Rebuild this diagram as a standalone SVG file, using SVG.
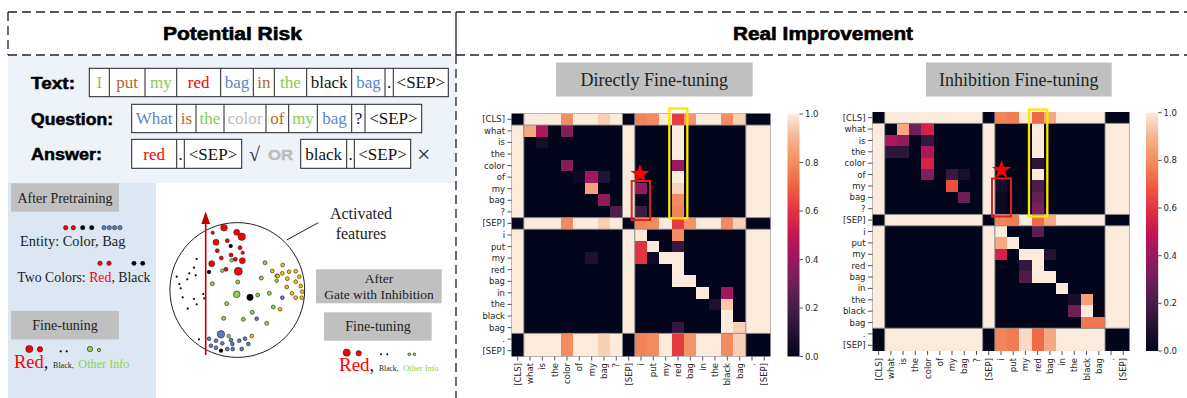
<svg xmlns="http://www.w3.org/2000/svg" xmlns:xlink="http://www.w3.org/1999/xlink" width="1187" height="398" viewBox="0 0 1187 398">
<style>
.hdr{font-family:"Liberation Sans",Arial,sans-serif;font-weight:bold;font-size:18px;fill:#000;stroke:#000;stroke-width:0.6}
.lab{font-family:"Liberation Sans",Arial,sans-serif;font-weight:bold;font-size:16px;fill:#000;stroke:#000;stroke-width:0.5}
.tk{font-family:"Liberation Serif","Times New Roman",serif;font-size:17px;text-anchor:middle}
.tb{fill:#fff;stroke:#222;stroke-width:1}
.ser{font-family:"Liberation Serif","Times New Roman",serif;fill:#222}
.gbox{fill:#C0C0C0}
.hl{font-family:"DejaVu Sans",sans-serif;font-size:8.5px;fill:#262626}
.tick{stroke:#262626;stroke-width:0.8}
.grid{stroke:#8a8a8a;stroke-width:0.9;fill:none}
.dash{stroke:#222;stroke-width:1.3;stroke-dasharray:9 5;fill:none}
.r{fill:#FF0000;stroke:#222;stroke-width:0.6}
.k{fill:#000}
.g{fill:#92D050;stroke:#222;stroke-width:0.6}
.o{fill:#FFC000;stroke:#222;stroke-width:0.6}
.b{fill:#5B7FC0;stroke:#222;stroke-width:0.6}
.cG{fill:#8CC850}.cB{fill:#B8672A}.cR{fill:#FF0000}.cL{fill:#5B86C8}.cY{fill:#BBBBBB}.cK{fill:#111}
</style>
<defs>
<linearGradient id="rocket" x1="0" y1="1" x2="0" y2="0">
<stop offset="0" stop-color="#03051A"/>
<stop offset="0.1" stop-color="#221331"/>
<stop offset="0.2" stop-color="#471C46"/>
<stop offset="0.3" stop-color="#6F1F57"/>
<stop offset="0.4" stop-color="#99195D"/>
<stop offset="0.5" stop-color="#C11754"/>
<stop offset="0.6" stop-color="#E13342"/>
<stop offset="0.7" stop-color="#F06043"/>
<stop offset="0.8" stop-color="#F58D5E"/>
<stop offset="0.9" stop-color="#F6B48E"/>
<stop offset="1" stop-color="#FAEBDD"/>
</linearGradient>
<path id="star" d="M0,-10 L2.35,-3.24 L9.51,-3.09 L3.8,1.24 L5.88,8.09 L0,4 L-5.88,8.09 L-3.8,1.24 L-9.51,-3.09 L-2.35,-3.24 Z" fill="#FF0000"/>
<g id="base">
<rect x="0" y="0" width="21" height="21" fill="#03051A"/>
<g fill="#FAEBDD">
<rect x="0" y="1" width="1" height="8"/><rect x="0" y="10" width="1" height="9"/>
<rect x="9" y="1" width="1" height="8"/><rect x="9" y="10" width="1" height="9"/>
<rect x="19" y="1" width="2" height="8"/><rect x="19" y="10" width="2" height="9"/>
<rect x="1" y="0" width="8" height="1"/><rect x="10" y="0" width="9" height="1"/>
<rect x="1" y="9" width="8" height="1"/><rect x="10" y="9" width="9" height="1"/>
<rect x="1" y="19" width="8" height="2"/><rect x="10" y="19" width="9" height="2"/>
</g>
</g>
<g id="grid">
<path class="grid" vector-effect="non-scaling-stroke" d="M1,0V21M9,0V21M10,0V21M19,0V21M0,1H21M0,9H21M0,10H21M0,19H21"/>
</g>
<g id="pat1" shape-rendering="crispEdges">
<rect x="4" y="0" width="1" height="1" fill="#F38C61"/>
<rect x="7" y="0" width="1" height="1" fill="#F7D0B8"/>
<rect x="10" y="0" width="1" height="1" fill="#F2845A"/>
<rect x="11" y="0" width="1" height="1" fill="#F38C61"/>
<rect x="13" y="0" width="1" height="1" fill="#E53D3F"/>
<rect x="14" y="0" width="1" height="1" fill="#F4946A"/>
<rect x="17" y="0" width="1" height="1" fill="#F38C61"/>
<rect x="18" y="0" width="1" height="1" fill="#F7D0B8"/>
</g>
<g id="pat2" shape-rendering="crispEdges">
<rect x="10" y="0" width="1" height="1" fill="#F2845A"/>
<rect x="11" y="0" width="1" height="1" fill="#F17B52"/>
<rect x="13" y="0" width="1" height="1" fill="#EF6A47"/>
<rect x="14" y="0" width="1" height="1" fill="#F5A882"/>
</g>
</defs>

<!-- Backgrounds -->
<rect x="8" y="56" width="448" height="127" fill="#EEF2F9"/>
<rect x="8" y="183" width="148" height="215" fill="#DDE7F4"/>

<!-- Header frame -->
<g id="header">
<line class="dash" x1="8" y1="12" x2="1187" y2="12"/>
<line class="dash" x1="8" y1="55" x2="1187" y2="55"/>
<line class="dash" x1="8" y1="12" x2="8" y2="55"/>
<line x1="456" y1="12" x2="456" y2="55" stroke="#222" stroke-width="1.3"/>
<line class="dash" x1="456" y1="55" x2="456" y2="398"/>
<text class="hdr" x="163" y="40" textLength="139" lengthAdjust="spacingAndGlyphs">Potential Risk</text>
<text class="hdr" x="733" y="40" textLength="180" lengthAdjust="spacingAndGlyphs">Real Improvement</text>
</g>

<!-- Text / Question / Answer rows -->
<g id="text-row">
<text class="lab" x="31" y="89" textLength="44" lengthAdjust="spacingAndGlyphs">Text:</text>
<rect class="tb" x="89.3" y="68.3" width="359" height="28.4"/>
<path stroke="#222" stroke-width="1" d="M109.3,68.3V96.7M145,68.3V96.7M176.7,68.3V96.7M220.7,68.3V96.7M253.3,68.3V96.7M274.3,68.3V96.7M306.7,68.3V96.7M351.7,68.3V96.7M385,68.3V96.7M393.3,68.3V96.7"/>
<text class="tk cG" x="99.3" y="88">I</text>
<text class="tk cB" x="127.2" y="88">put</text>
<text class="tk cG" x="160.9" y="88">my</text>
<text class="tk cR" x="198.7" y="88">red</text>
<text class="tk cL" x="237" y="88">bag</text>
<text class="tk cB" x="263.8" y="88">in</text>
<text class="tk cG" x="290.5" y="88">the</text>
<text class="tk cK" x="329.2" y="88">black</text>
<text class="tk cL" x="368.4" y="88">bag</text>
<text class="tk cK" x="389.2" y="88">.</text>
<text class="tk cK" x="420.8" y="88">&lt;SEP&gt;</text>
</g>
<g id="question-row">
<text class="lab" x="31" y="125" textLength="82" lengthAdjust="spacingAndGlyphs">Question:</text>
<rect class="tb" x="131.7" y="104.3" width="290" height="28.4"/>
<path stroke="#222" stroke-width="1" d="M176.7,104.3V132.7M196,104.3V132.7M224,104.3V132.7M266,104.3V132.7M288.7,104.3V132.7M317.3,104.3V132.7M351.7,104.3V132.7M365,104.3V132.7"/>
<text class="tk cL" x="154.2" y="124">What</text>
<text class="tk cB" x="186.4" y="124">is</text>
<text class="tk cG" x="210" y="124">the</text>
<text class="tk cY" x="245" y="124">color</text>
<text class="tk cB" x="277.4" y="124">of</text>
<text class="tk cG" x="303" y="124">my</text>
<text class="tk cL" x="334.5" y="124">bag</text>
<text class="tk cK" x="358.4" y="124">?</text>
<text class="tk cK" x="393.4" y="124">&lt;SEP&gt;</text>
</g>
<g id="answer-row">
<text class="lab" x="31" y="160" textLength="71" lengthAdjust="spacingAndGlyphs">Answer:</text>
<rect class="tb" x="131.7" y="139.3" width="110" height="29"/>
<path stroke="#222" stroke-width="1" d="M176.7,139.3V168.3M184.3,139.3V168.3"/>
<text class="tk cR" x="154.2" y="159.5">red</text>
<text class="tk cK" x="180.5" y="159.5">.</text>
<text class="tk cK" x="213" y="159.5">&lt;SEP&gt;</text>
<text class="ser" x="249" y="161" font-size="20">√</text>
<text x="268" y="160" font-family="Liberation Sans,Arial,sans-serif" font-weight="bold" font-size="15" fill="#BDBDBD" stroke="#BDBDBD" stroke-width="0.5" textLength="25" lengthAdjust="spacingAndGlyphs">OR</text>
<rect class="tb" x="300.7" y="139.3" width="110" height="29"/>
<path stroke="#222" stroke-width="1" d="M346.7,139.3V168.3M354.3,139.3V168.3"/>
<text class="tk cK" x="323.7" y="159.5">black</text>
<text class="tk cK" x="350.5" y="159.5">.</text>
<text class="tk cK" x="382.5" y="159.5">&lt;SEP&gt;</text>
<text class="ser" x="417" y="162" font-size="24">×</text>
</g>

<!-- After pretraining -->
<g id="after-pretraining">
<rect class="gbox" x="11" y="183.3" width="108" height="28.4"/>
<text class="ser" x="65" y="202.5" font-size="14" text-anchor="middle">After Pretraining</text>
<circle class="r" cx="65.7" cy="227.7" r="2.2"/><circle class="r" cx="73.3" cy="227.7" r="2.2"/>
<circle class="k" cx="82.7" cy="227.7" r="2.4"/><circle class="k" cx="91.7" cy="227.7" r="2.4"/>
<circle class="b" cx="104" cy="227.7" r="2.1"/><circle class="b" cx="109.3" cy="227.7" r="2.1"/><circle class="b" cx="114.6" cy="227.7" r="2.1"/><circle class="b" cx="120" cy="227.7" r="2.1"/>
<text class="ser" x="20" y="246" font-size="14.4">Entity: Color, Bag</text>
<circle class="r" cx="100" cy="263.3" r="2.2"/><circle class="r" cx="109" cy="263.3" r="2.2"/>
<circle class="k" cx="134" cy="263.3" r="2.4"/><circle class="k" cx="142.7" cy="263.3" r="2.4"/>
<text class="ser" x="17.3" y="281.5" font-size="13.8">Two Colors: <tspan fill="#FF0000">Red</tspan>, Black</text>
</g>
<g id="finetune-left">
<rect class="gbox" x="11" y="311" width="108" height="28.4"/>
<text class="ser" x="65" y="330" font-size="14" text-anchor="middle">Fine-tuning</text>
<circle class="r" cx="29.3" cy="349" r="3.6"/><circle class="r" cx="40" cy="349.3" r="2.7"/>
<circle class="k" cx="60.7" cy="351.3" r="1.1"/><circle class="k" cx="66.7" cy="351.3" r="1.1"/>
<circle class="g" cx="90" cy="349" r="2.7"/><circle class="g" cx="99" cy="350" r="1.7"/>
<text class="ser" x="14" y="368" font-size="18.5"><tspan fill="#FF0000">Red</tspan>, <tspan font-size="8">Black,</tspan> <tspan font-size="12.2" fill="#92D050">Other Info</tspan></text>
</g>

<!-- Feature circle -->
<g id="feature-circle">
<circle cx="237.3" cy="290" r="67.4" fill="#fff" stroke="#222" stroke-width="1"/>
<g>
<circle class="k" cx="196.7" cy="259" r="1.1"/><circle class="k" cx="194" cy="267.7" r="1.1"/><circle class="k" cx="189.3" cy="273.3" r="1.1"/><circle class="k" cx="195.7" cy="275.3" r="1.1"/><circle class="k" cx="176.7" cy="276.7" r="1.1"/><circle class="k" cx="187.3" cy="279.3" r="1.1"/><circle class="k" cx="179.3" cy="284" r="1.1"/><circle class="k" cx="180.7" cy="288.3" r="1.1"/><circle class="k" cx="203.3" cy="294" r="1.1"/><circle class="k" cx="204.3" cy="298.3" r="1.1"/><circle class="k" cx="182.7" cy="297.3" r="1.1"/><circle class="k" cx="194" cy="299" r="1.1"/><circle class="k" cx="196.7" cy="304.3" r="1.1"/><circle class="k" cx="187.7" cy="308.7" r="1.1"/><circle class="k" cx="199" cy="339.3" r="1.1"/>
</g>
<g>
<circle class="r" cx="224" cy="227.7" r="3.3"/><circle class="r" cx="236.7" cy="232.3" r="3"/><circle class="r" cx="241.7" cy="236.7" r="3.7"/><circle class="r" cx="212.7" cy="232.7" r="1.7"/><circle class="r" cx="216" cy="242.3" r="3"/><circle class="r" cx="227.3" cy="240.7" r="2"/><circle class="r" cx="240" cy="247.7" r="2"/><circle class="r" cx="217.3" cy="250.7" r="2"/><circle class="r" cx="231" cy="255" r="2"/><circle class="r" cx="242.7" cy="252.7" r="1.7"/><circle class="r" cx="221.3" cy="258" r="2"/><circle class="r" cx="235.3" cy="259.3" r="2"/><circle class="r" cx="242.3" cy="260.7" r="3"/><circle class="r" cx="211.7" cy="263.7" r="3"/><circle class="r" cx="226" cy="269.3" r="2"/><circle class="r" cx="238.3" cy="271.3" r="4"/>
</g>
<g>
<circle class="k" cx="230.7" cy="246" r="2.1"/><circle class="k" cx="209" cy="272" r="2.1"/><circle class="k" cx="250" cy="297.3" r="3.4"/><circle class="k" cx="221" cy="350.7" r="2.1"/>
</g>
<g>
<circle class="g" cx="231.7" cy="260.3" r="1.8"/><circle class="g" cx="222.3" cy="270.7" r="1.8"/><circle class="g" cx="237.7" cy="282" r="2"/><circle class="g" cx="212.3" cy="283.7" r="2"/><circle class="g" cx="236.7" cy="294.3" r="3.3"/><circle class="g" cx="226.7" cy="303.7" r="2"/><circle class="g" cx="265" cy="262.7" r="2"/><circle class="g" cx="261.3" cy="278" r="2"/><circle class="g" cx="269.3" cy="293.3" r="2"/><circle class="g" cx="257.7" cy="295" r="2"/><circle class="g" cx="252.3" cy="312.3" r="2"/><circle class="g" cx="243.3" cy="319.3" r="2"/><circle class="g" cx="223.7" cy="318.3" r="2"/><circle class="g" cx="266.7" cy="323.3" r="2"/><circle class="g" cx="273.3" cy="307" r="2"/><circle class="g" cx="228.7" cy="336" r="1.8"/><circle class="g" cx="276.7" cy="275.7" r="1.8"/><circle class="g" cx="276.7" cy="280.7" r="1.8"/>
</g>
<g>
<circle class="o" cx="282.7" cy="265" r="1.9"/><circle class="o" cx="272.3" cy="271" r="1.9"/><circle class="o" cx="282.3" cy="273.3" r="1.9"/><circle class="o" cx="289" cy="271.7" r="1.9"/><circle class="o" cx="295.7" cy="271.3" r="1.9"/><circle class="o" cx="277.7" cy="276" r="1.9"/><circle class="o" cx="287.3" cy="278.7" r="1.9"/><circle class="o" cx="299.3" cy="276.7" r="1.9"/><circle class="o" cx="295.7" cy="281.7" r="1.9"/><circle class="o" cx="286.7" cy="287" r="1.9"/><circle class="o" cx="292" cy="293.3" r="1.9"/><circle class="o" cx="300.7" cy="286" r="1.9"/><circle class="o" cx="302.3" cy="291.7" r="1.9"/><circle class="o" cx="295.7" cy="297.7" r="1.9"/><circle class="o" cx="301.7" cy="297.7" r="1.9"/><circle class="o" cx="280" cy="309.3" r="1.9"/><circle class="o" cx="251.7" cy="336" r="1.9"/>
</g>
<g>
<circle class="b" cx="282.3" cy="297.7" r="1.9"/><circle class="b" cx="256.7" cy="318.7" r="1.9"/><circle class="b" cx="221" cy="334.3" r="3.7"/><circle class="b" cx="209" cy="338.7" r="1.9"/><circle class="b" cx="216" cy="340.7" r="1.9"/><circle class="b" cx="222.3" cy="343.3" r="1.9"/><circle class="b" cx="231" cy="340" r="1.9"/><circle class="b" cx="239.3" cy="340.7" r="1.9"/><circle class="b" cx="245" cy="338.7" r="1.9"/><circle class="b" cx="248.3" cy="344" r="1.9"/><circle class="b" cx="211" cy="345.7" r="1.9"/><circle class="b" cx="216" cy="347.7" r="1.9"/><circle class="b" cx="227.3" cy="349" r="1.9"/><circle class="b" cx="232.7" cy="349" r="1.9"/><circle class="b" cx="241.7" cy="349" r="1.9"/><circle class="b" cx="232.3" cy="344" r="1.9"/>
</g>
<line x1="205.7" y1="355" x2="205.7" y2="222" stroke="#C00000" stroke-width="1.6"/>
<polygon points="205.7,211.5 201.3,224 210.1,224" fill="#C00000"/>
<line x1="286.7" y1="240" x2="318.3" y2="222.7" stroke="#222" stroke-width="1"/>
<text class="ser" x="361" y="218.5" font-size="16" text-anchor="middle">Activated</text>
<text class="ser" x="361" y="238.5" font-size="16" text-anchor="middle">features</text>
</g>

<g id="gate-inhibition">
<rect class="gbox" x="316" y="269.3" width="125.7" height="34"/>
<text class="ser" x="379" y="283" font-size="13.5" text-anchor="middle">After</text>
<text class="ser" x="379" y="299" font-size="13.5" text-anchor="middle">Gate with Inhibition</text>
<rect class="gbox" x="324" y="312.3" width="107.7" height="28.4"/>
<text class="ser" x="378" y="331" font-size="14" text-anchor="middle">Fine-tuning</text>
<circle class="r" cx="346.7" cy="352.7" r="3.6"/><circle class="r" cx="358.7" cy="353.3" r="2.7"/>
<circle class="k" cx="381" cy="354.3" r="1"/><circle class="k" cx="387.3" cy="354.3" r="1"/>
<circle class="g" cx="409.3" cy="354.3" r="1.4"/><circle class="g" cx="414.3" cy="354.3" r="1.4"/>
<text class="ser" x="339" y="371" font-size="19"><tspan fill="#FF0000">Red</tspan>, <tspan font-size="7.5">Black,</tspan> <tspan font-size="8.5" fill="#92D050">Other Info</tspan></text>
</g>

<!-- Heatmap 1 -->
<g id="title-direct">
<rect class="gbox" x="556" y="62.5" width="196.7" height="34"/>
<text class="ser" x="654.3" y="86" font-size="18" text-anchor="middle">Directly Fine-tuning</text>
</g>
<g id="heatmap-direct">
<g transform="translate(511.5,113.5) scale(12.333,11.571)">
<use xlink:href="#base"/>
<use xlink:href="#pat1"/>
<use xlink:href="#pat1" y="9"/>
<use xlink:href="#pat1" transform="translate(0,19) scale(1,2)"/>
<g shape-rendering="crispEdges">
<rect x="1" y="1" width="1" height="1" fill="#F5A882"/>
<rect x="2" y="1" width="1" height="1" fill="#AD1759"/>
<rect x="4" y="1" width="1" height="1" fill="#841E5A"/>
<rect x="2" y="2" width="1" height="1" fill="#160D29"/>
<rect x="4" y="4" width="1" height="1" fill="#841E5A"/>
<rect x="5" y="5" width="1" height="1" fill="#0E0923"/>
<rect x="6" y="5" width="1" height="1" fill="#A1185C"/>
<rect x="7" y="5" width="1" height="1" fill="#221331"/>
<rect x="6" y="6" width="1" height="1" fill="#F5A07A"/>
<rect x="7" y="7" width="1" height="1" fill="#901B5C"/>
<rect x="8" y="8" width="1" height="1" fill="#501D4B"/>
<rect x="10" y="6" width="1" height="1" fill="#99195D"/>
<rect x="10" y="8" width="1" height="1" fill="#3F1A42"/>
<rect x="13" y="1" width="1" height="3" fill="#FAEBDD"/>
<rect x="13" y="4" width="1" height="1" fill="#99195D"/>
<rect x="13" y="5" width="1" height="1" fill="#FAEBDD"/>
<rect x="13" y="6" width="1" height="1" fill="#F7D3BE"/>
<rect x="13" y="7" width="1" height="1" fill="#F38C61"/>
<rect x="13" y="8" width="1" height="1" fill="#F2845A"/>
<rect x="10" y="10" width="1" height="1" fill="#FAEBDD"/>
<rect x="13" y="10" width="1" height="1" fill="#F38C61"/>
<rect x="10" y="11" width="1" height="1" fill="#E13342"/>
<rect x="11" y="11" width="1" height="1" fill="#FAEBDD"/>
<rect x="13" y="11" width="1" height="1" fill="#34183D"/>
<rect x="6" y="12" width="1" height="1" fill="#1C102D"/>
<rect x="10" y="12" width="1" height="1" fill="#E13342"/>
<rect x="11" y="12" width="1" height="1" fill="#110A26"/>
<rect x="12" y="12" width="2" height="1" fill="#FAEBDD"/>
<rect x="13" y="13" width="1" height="1" fill="#FAEBDD"/>
<rect x="13" y="14" width="2" height="1" fill="#FAEBDD"/>
<rect x="15" y="15" width="1" height="1" fill="#FAEBDD"/>
<rect x="17" y="15" width="1" height="1" fill="#A1185C"/>
<rect x="16" y="16" width="1" height="1" fill="#1C102D"/>
<rect x="17" y="16" width="1" height="1" fill="#F6C9AE"/>
<rect x="17" y="17" width="1" height="2" fill="#FAEBDD"/>
<rect x="13" y="18" width="1" height="1" fill="#34183D"/>
<rect x="18" y="18" width="1" height="1" fill="#F7D0B8"/>
</g>
<use xlink:href="#grid"/>
</g>
<g class="tick">
<path d="M507.5,119.3h4M507.5,130.9h4M507.5,142.4h4M507.5,154h4M507.5,165.6h4M507.5,177.1h4M507.5,188.7h4M507.5,200.3h4M507.5,211.9h4M507.5,223.4h4M507.5,235h4M507.5,246.6h4M507.5,258.1h4M507.5,269.7h4M507.5,281.3h4M507.5,292.8h4M507.5,304.4h4M507.5,316h4M507.5,327.6h4M507.5,339.1h4M507.5,350.7h4"/>
<path d="M517.7,356.5v4M530,356.5v4M542.3,356.5v4M554.7,356.5v4M567,356.5v4M579.3,356.5v4M591.7,356.5v4M604,356.5v4M616.3,356.5v4M628.7,356.5v4M641,356.5v4M653.3,356.5v4M665.7,356.5v4M678,356.5v4M690.3,356.5v4M702.7,356.5v4M715,356.5v4M727.3,356.5v4M739.7,356.5v4M752,356.5v4M764.3,356.5v4"/>
</g>
<g class="hl" text-anchor="end">
<text x="505" y="122.3">[CLS]</text><text x="505" y="133.9">what</text><text x="505" y="145.4">is</text><text x="505" y="157">the</text><text x="505" y="168.6">color</text><text x="505" y="180.1">of</text><text x="505" y="191.7">my</text><text x="505" y="203.3">bag</text><text x="505" y="214.9">?</text><text x="505" y="226.4">[SEP]</text><text x="505" y="238">i</text><text x="505" y="249.6">put</text><text x="505" y="261.1">my</text><text x="505" y="272.7">red</text><text x="505" y="284.3">bag</text><text x="505" y="295.8">in</text><text x="505" y="307.4">the</text><text x="505" y="319">black</text><text x="505" y="330.6">bag</text><text x="505" y="342.1">.</text><text x="505" y="353.7">[SEP]</text>
</g>
<g class="hl" text-anchor="end">
<text transform="translate(520.7,363) rotate(-90)">[CLS]</text><text transform="translate(533,363) rotate(-90)">what</text><text transform="translate(545.3,363) rotate(-90)">is</text><text transform="translate(557.7,363) rotate(-90)">the</text><text transform="translate(570,363) rotate(-90)">color</text><text transform="translate(582.3,363) rotate(-90)">of</text><text transform="translate(594.7,363) rotate(-90)">my</text><text transform="translate(607,363) rotate(-90)">bag</text><text transform="translate(619.3,363) rotate(-90)">?</text><text transform="translate(631.7,363) rotate(-90)">[SEP]</text><text transform="translate(644,363) rotate(-90)">i</text><text transform="translate(656.3,363) rotate(-90)">put</text><text transform="translate(668.7,363) rotate(-90)">my</text><text transform="translate(681,363) rotate(-90)">red</text><text transform="translate(693.3,363) rotate(-90)">bag</text><text transform="translate(705.7,363) rotate(-90)">in</text><text transform="translate(718,363) rotate(-90)">the</text><text transform="translate(730.3,363) rotate(-90)">black</text><text transform="translate(742.7,363) rotate(-90)">bag</text><text transform="translate(755,363) rotate(-90)">.</text><text transform="translate(767.3,363) rotate(-90)">[SEP]</text>
</g>
<rect x="631.7" y="181" width="18.3" height="39" fill="none" stroke="#E0201E" stroke-width="2"/>
<rect x="669.3" y="108.5" width="18" height="109.8" fill="none" stroke="#FFE600" stroke-width="2.3"/>
<use xlink:href="#star" transform="translate(640,174)"/>
</g>
<g id="colorbar-direct">
<rect x="787.5" y="114" width="12" height="242.5" fill="url(#rocket)"/>
<path class="tick" d="M799.5,114h3.5M799.5,162.5h3.5M799.5,211h3.5M799.5,259.5h3.5M799.5,308h3.5M799.5,356.5h3.5"/>
<g class="hl"><text x="805" y="117">1.0</text><text x="805" y="165.5">0.8</text><text x="805" y="214">0.6</text><text x="805" y="262.5">0.4</text><text x="805" y="311">0.2</text><text x="805" y="359.5">0.0</text></g>
</g>

<!-- Heatmap 2 -->
<g id="title-inhibition">
<rect class="gbox" x="926" y="62.5" width="185.7" height="34"/>
<text class="ser" x="1018.8" y="86" font-size="18" text-anchor="middle">Inhibition Fine-tuning</text>
</g>
<g id="heatmap-inhibition">
<g transform="translate(872.5,112) scale(12.238,11.381)">
<use xlink:href="#base"/>
<use xlink:href="#pat2"/>
<use xlink:href="#pat2" y="9"/>
<use xlink:href="#pat2" transform="translate(0,19) scale(1,2)"/>
<g shape-rendering="crispEdges">
<rect x="12" y="19" width="1" height="2" fill="#F8D8C6"/>
<rect x="2" y="1" width="1" height="1" fill="#F5A882"/>
<rect x="3" y="1" width="1" height="1" fill="#6F1F57"/>
<rect x="4" y="1" width="1" height="1" fill="#D3214B"/>
<rect x="1" y="2" width="1" height="1" fill="#AD1759"/>
<rect x="2" y="2" width="1" height="1" fill="#901B5C"/>
<rect x="4" y="2" width="1" height="1" fill="#34183D"/>
<rect x="1" y="3" width="1" height="1" fill="#2D163A"/>
<rect x="2" y="3" width="1" height="1" fill="#2A1637"/>
<rect x="4" y="3" width="1" height="1" fill="#A9185A"/>
<rect x="4" y="4" width="1" height="1" fill="#D3214B"/>
<rect x="4" y="5" width="1" height="1" fill="#841E5A"/>
<rect x="6" y="5" width="1" height="1" fill="#34183D"/>
<rect x="7" y="5" width="1" height="1" fill="#190F2B"/>
<rect x="6" y="6" width="1" height="1" fill="#EA4F3C"/>
<rect x="7" y="7" width="1" height="1" fill="#6F1F57"/>
<rect x="10" y="6" width="1" height="1" fill="#160D29"/>
<rect x="10" y="7" width="1" height="1" fill="#0B0820"/>
<rect x="10" y="8" width="1" height="1" fill="#0E0923"/>
<rect x="13" y="1" width="1" height="3" fill="#FAEBDD"/>
<rect x="13" y="4" width="1" height="1" fill="#2A1637"/>
<rect x="13" y="5" width="1" height="1" fill="#FAEBDD"/>
<rect x="13" y="6" width="1" height="1" fill="#501D4B"/>
<rect x="13" y="7" width="1" height="1" fill="#671F54"/>
<rect x="13" y="8" width="1" height="1" fill="#7A1F58"/>
<rect x="10" y="10" width="1" height="1" fill="#FAEBDD"/>
<rect x="13" y="10" width="1" height="1" fill="#5B1E51"/>
<rect x="10" y="11" width="1" height="1" fill="#F5A882"/>
<rect x="11" y="11" width="1" height="1" fill="#FAEBDD"/>
<rect x="10" y="12" width="1" height="1" fill="#D3214B"/>
<rect x="12" y="12" width="2" height="1" fill="#FAEBDD"/>
<rect x="14" y="12" width="1" height="1" fill="#221331"/>
<rect x="12" y="13" width="1" height="1" fill="#34183D"/>
<rect x="13" y="13" width="1" height="1" fill="#FAEBDD"/>
<rect x="12" y="14" width="1" height="1" fill="#501D4B"/>
<rect x="13" y="14" width="2" height="1" fill="#FAEBDD"/>
<rect x="15" y="15" width="1" height="1" fill="#FAEBDD"/>
<rect x="16" y="16" width="1" height="1" fill="#190F2B"/>
<rect x="17" y="16" width="1" height="1" fill="#F5A07A"/>
<rect x="16" y="17" width="1" height="1" fill="#6F1F57"/>
<rect x="17" y="17" width="1" height="1" fill="#FAEBDD"/>
<rect x="17" y="18" width="2" height="1" fill="#F1774F"/>
</g>
<use xlink:href="#grid"/>
</g>
<g class="tick">
<path d="M868,117.7h4.5M868,129.1h4.5M868,140.5h4.5M868,151.8h4.5M868,163.2h4.5M868,174.6h4.5M868,186h4.5M868,197.4h4.5M868,208.7h4.5M868,220.1h4.5M868,231.5h4.5M868,242.9h4.5M868,254.3h4.5M868,265.7h4.5M868,277h4.5M868,288.4h4.5M868,299.8h4.5M868,311.2h4.5M868,322.6h4.5M868,333.9h4.5M868,345.3h4.5"/>
<path d="M878.6,351v4M890.9,351v4M903.1,351v4M915.3,351v4M927.6,351v4M939.8,351v4M952,351v4M964.3,351v4M976.5,351v4M988.7,351v4M1001,351v4M1013.2,351v4M1025.4,351v4M1037.6,351v4M1049.9,351v4M1062.1,351v4M1074.3,351v4M1086.6,351v4M1098.8,351v4M1111,351v4M1123.3,351v4"/>
</g>
<g class="hl" text-anchor="end">
<text x="865.5" y="120.7">[CLS]</text><text x="865.5" y="132.1">what</text><text x="865.5" y="143.5">is</text><text x="865.5" y="154.8">the</text><text x="865.5" y="166.2">color</text><text x="865.5" y="177.6">of</text><text x="865.5" y="189">my</text><text x="865.5" y="200.4">bag</text><text x="865.5" y="211.7">?</text><text x="865.5" y="223.1">[SEP]</text><text x="865.5" y="234.5">i</text><text x="865.5" y="245.9">put</text><text x="865.5" y="257.3">my</text><text x="865.5" y="268.7">red</text><text x="865.5" y="280">bag</text><text x="865.5" y="291.4">in</text><text x="865.5" y="302.8">the</text><text x="865.5" y="314.2">black</text><text x="865.5" y="325.6">bag</text><text x="865.5" y="336.9">.</text><text x="865.5" y="348.3">[SEP]</text>
</g>
<g class="hl" text-anchor="end">
<text transform="translate(881.6,358) rotate(-90)">[CLS]</text><text transform="translate(893.9,358) rotate(-90)">what</text><text transform="translate(906.1,358) rotate(-90)">is</text><text transform="translate(918.3,358) rotate(-90)">the</text><text transform="translate(930.6,358) rotate(-90)">color</text><text transform="translate(942.8,358) rotate(-90)">of</text><text transform="translate(955,358) rotate(-90)">my</text><text transform="translate(967.3,358) rotate(-90)">bag</text><text transform="translate(979.5,358) rotate(-90)">?</text><text transform="translate(991.7,358) rotate(-90)">[SEP]</text><text transform="translate(1004,358) rotate(-90)">i</text><text transform="translate(1016.2,358) rotate(-90)">put</text><text transform="translate(1028.4,358) rotate(-90)">my</text><text transform="translate(1040.6,358) rotate(-90)">red</text><text transform="translate(1052.9,358) rotate(-90)">bag</text><text transform="translate(1065.1,358) rotate(-90)">in</text><text transform="translate(1077.3,358) rotate(-90)">the</text><text transform="translate(1089.6,358) rotate(-90)">black</text><text transform="translate(1101.8,358) rotate(-90)">bag</text><text transform="translate(1114,358) rotate(-90)">.</text><text transform="translate(1126.3,358) rotate(-90)">[SEP]</text>
</g>
<rect x="992" y="178.5" width="19" height="38" fill="none" stroke="#E0201E" stroke-width="2"/>
<rect x="1029" y="109.5" width="18.3" height="107" fill="none" stroke="#FFE600" stroke-width="2.3"/>
<use xlink:href="#star" transform="translate(1001.5,170)"/>
</g>
<g id="colorbar-inhibition">
<rect x="1146" y="112.7" width="12.2" height="238.3" fill="url(#rocket)"/>
<path class="tick" d="M1158.2,112.7h3.5M1158.2,160.4h3.5M1158.2,208h3.5M1158.2,255.7h3.5M1158.2,303.3h3.5M1158.2,351h3.5"/>
<g class="hl"><text x="1163.5" y="115.7">1.0</text><text x="1163.5" y="163.4">0.8</text><text x="1163.5" y="211">0.6</text><text x="1163.5" y="258.7">0.4</text><text x="1163.5" y="306.3">0.2</text><text x="1163.5" y="354">0.0</text></g>
</g>
</svg>
